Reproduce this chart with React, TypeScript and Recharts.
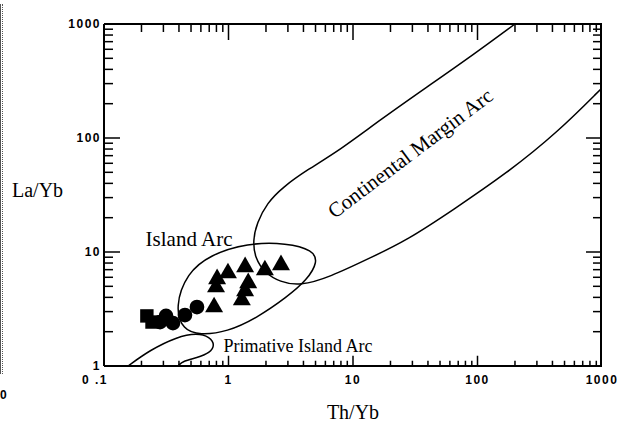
import { ScatterChart, Scatter, XAxis, YAxis, ReferenceDot, Symbols } from 'recharts';

// axis ticks (log scales)
const xMajorTicks = [0.1, 1, 10, 100, 1000];
const xInnerMajors = [1, 10, 100];
const xMinorTicks = [
  0.2, 0.3, 0.4, 0.5, 0.6, 0.7, 0.8, 0.9,
  2, 3, 4, 5, 6, 7, 8, 9,
  20, 30, 40, 50, 60, 70, 80, 90,
  200, 300, 400, 500, 600, 700, 800, 900,
];
const yMajorTicks = [1, 10, 100, 1000];
const yInnerMajors = [10, 100];
const yMinorTicks = [
  2, 3, 4, 5, 6, 7, 8, 9,
  20, 30, 40, 50, 60, 70, 80, 90,
  200, 300, 400, 500, 600, 700, 800, 900,
];
const yBottom = 1;
const yTop = 1000;

// samples: Th/Yb and La/Yb
const squareTh = [0.221, 0.243];
const squareLa = [2.75, 2.43];
const circleTh = [0.282, 0.315, 0.358, 0.447, 0.558];
const circleLa = [2.43, 2.75, 2.38, 2.8, 3.29];
const triangleTh = [0.766, 0.81, 0.794, 0.99, 1.36, 1.44, 1.36, 1.28, 1.96, 2.64];
const triangleLa = [3.29, 5.8, 4.93, 6.54, 7.39, 5.35, 4.55, 3.79, 6.95, 7.69];

// field outlines, [Th/Yb, La/Yb]
const islandArcField = [
  [0.371, 3.29], [0.464, 6.54], [0.709, 9.41], [1.41, 12.0], [2.95, 12.0],
  [4.77, 10.4], [5.23, 8.17], [4.27, 5.68], [2.95, 4.03], [1.69, 2.64],
  [0.972, 1.99], [0.59, 1.87], [0.431, 2.07],
];
const primitiveArcField = [
  [0.156, 1.0], [0.234, 1.38], [0.385, 1.8], [0.558, 1.95], [0.709, 1.8],
  [0.779, 1.53], [0.709, 1.3], [0.558, 1.18], [0.431, 1.11], [0.393, 1.0],
];
const continentalArcField = [
  [200, 1000], [92, 535], [39.3, 280], [16.5, 144], [7.86, 78.5], [4.27, 52.4],
  [2.74, 37.2], [2.04, 26.9], [1.69, 18.0], [1.57, 12.7], [1.63, 8.86],
  [1.96, 6.54], [2.59, 5.46], [3.75, 5.03], [6.53, 6.03], [13.7, 8.86],
  [27.2, 12.7], [63.6, 23.4], [172.6, 49.3], [435, 111], [1000, 275],
];

const toPoints = (xs: number[], ys: number[]) => xs.map((x, i) => ({ x, y: ys[i] }));
const fromPairs = (pairs: number[][]) => pairs.map(([x, y]) => ({ x, y }));

// inward tick marks along a horizontal frame edge, as a comb line through the scales
// (len is the tick length in decades of La/Yb; sign +1 goes up from the edge, -1 down)
const comb = (xs: number[], edge: number, len: number, sign: number) =>
  xs.flatMap((x) => [
    { x, y: edge },
    { x, y: edge * Math.pow(10, sign * len) },
    { x, y: edge },
  ]);

const serif = '"Liberation Serif", "Times New Roman", serif';
const tickFont = {
  fontFamily: '"Liberation Sans", Arial, sans-serif',
  fontSize: 12,
  fontWeight: 700,
  letterSpacing: 1.5,
  fill: '#000',
};
const tickStroke = { stroke: '#000', strokeWidth: 1.5 };
const frame = { stroke: '#000', strokeWidth: 2 };
const outline = { stroke: '#000', strokeWidth: 1.5, fill: 'none' };

function XTick(props: any) {
  const { x, y, payload } = props;
  const first = payload.value === 0.1;
  return (
    <text x={x + (first ? -9 : 0)} y={y} dy="0.75em" textAnchor="middle" style={tickFont}>
      {first ? '0 .1' : payload.value}
    </text>
  );
}
const NoLabel = () => <g />;

const marker = (type: 'square' | 'circle' | 'triangle', size: number) => (p: any) => (
  <Symbols cx={p.cx} cy={p.cy} type={type} size={size} fill="#000" />
);
const noMarker = () => <g />;

export default function App() {
  return (
    <div style={{ position: 'absolute', left: 0, top: 0, width: 617, height: 425, background: '#fff' }}>
      <div
        style={{
          position: 'absolute', left: 0, top: 4, width: 1, height: 370,
          borderLeft: '1px solid #555', borderRight: '1px dotted #555',
        }}
      />
      <div style={{ position: 'absolute', left: 0, top: 388, ...tickFont, fontSize: 12 }}>0</div>
      <ScatterChart width={617} height={425} margin={{ top: 24, right: 15, bottom: 4, left: 4 }}>
        <XAxis
          dataKey="x" type="number" scale="log" domain={[0.1, 1000]} allowDataOverflow
          ticks={xMajorTicks} interval={0} height={55} tickSize={0} tickMargin={9}
          axisLine={frame} tickLine={false} tick={<XTick />}
          label={{ value: 'Th/Yb', position: 'insideBottom', offset: 2, style: { fontFamily: serif, fontSize: 20, fill: '#000' } }}
        />
        <XAxis xAxisId="top" orientation="top" mirror type="number" scale="log" domain={[0.1, 1000]} allowDataOverflow
          ticks={xMajorTicks} interval={0} height={1} tick={<NoLabel />} axisLine={frame} tickLine={false} />

        <YAxis
          dataKey="y" type="number" scale="log" domain={[1, 1000]} allowDataOverflow
          ticks={yMajorTicks} interval={0} width={100} tickSize={0} tickMargin={3}
          axisLine={frame} tickLine={false} tick={tickFont}
          label={{ value: 'La/Yb', position: 'insideLeft', offset: 8, dy: -5, style: { fontFamily: serif, fontSize: 20, fill: '#000' } }}
        />
        <YAxis yAxisId="lMin" orientation="left" mirror type="number" scale="log" domain={[1, 1000]} allowDataOverflow
          ticks={yMinorTicks} interval={0} width={1} tickSize={8} tick={<NoLabel />} axisLine={false} tickLine={tickStroke} />
        <YAxis yAxisId="lMaj" orientation="left" mirror type="number" scale="log" domain={[1, 1000]} allowDataOverflow
          ticks={yInnerMajors} interval={0} width={1} tickSize={16} tick={<NoLabel />} axisLine={false} tickLine={tickStroke} />
        <YAxis yAxisId="rMin" orientation="right" mirror type="number" scale="log" domain={[1, 1000]} allowDataOverflow
          ticks={yMinorTicks} interval={0} width={1} tickSize={8} tick={<NoLabel />} axisLine={frame} tickLine={tickStroke} />
        <YAxis yAxisId="rMaj" orientation="right" mirror type="number" scale="log" domain={[1, 1000]} allowDataOverflow
          ticks={yInnerMajors} interval={0} width={1} tickSize={16} tick={<NoLabel />} axisLine={false} tickLine={tickStroke} />

        {/* inward tick marks on the bottom and top frame */}
        <Scatter data={comb(xMinorTicks, yBottom, 0.045, 1)} line={tickStroke} lineType="joint"
          shape={noMarker} isAnimationActive={false} />
        <Scatter data={comb(xInnerMajors, yBottom, 0.09, 1)} line={tickStroke} lineType="joint"
          shape={noMarker} isAnimationActive={false} />
        <Scatter data={comb(xMinorTicks, yTop, 0.07, -1)} line={tickStroke} lineType="joint"
          shape={noMarker} isAnimationActive={false} />
        <Scatter data={comb(xInnerMajors, yTop, 0.14, -1)} line={tickStroke} lineType="joint"
          shape={noMarker} isAnimationActive={false} />

        <Scatter data={fromPairs(islandArcField)} line={outline} lineType="joint" lineJointType="basisClosed"
          shape={noMarker} isAnimationActive={false} />
        <Scatter data={fromPairs(primitiveArcField)} line={outline} lineType="joint" lineJointType="basis"
          shape={noMarker} isAnimationActive={false} />
        <Scatter data={fromPairs(continentalArcField)} line={outline} lineType="joint" lineJointType="basis"
          shape={noMarker} isAnimationActive={false} />

        <Scatter data={toPoints(squareTh, squareLa)} shape={marker('square', 180)} isAnimationActive={false} />
        <Scatter data={toPoints(circleTh, circleLa)} shape={marker('circle', 170)} isAnimationActive={false} />
        <Scatter data={toPoints(triangleTh, triangleLa)} shape={marker('triangle', 140)} isAnimationActive={false} />

        <ReferenceDot x={0.482} y={13} r={0} stroke="none" fill="none"
          label={{ value: 'Island Arc', position: 'center', style: { fontFamily: serif, fontSize: 21, fill: '#000' } }} />
        <ReferenceDot x={3.61} y={1.5} r={0} stroke="none" fill="none"
          label={{ value: 'Primative Island Arc', position: 'center', style: { fontFamily: serif, fontSize: 18, fill: '#000' } }} />
        <ReferenceDot x={28.7} y={73.9} r={0} stroke="none" fill="none"
          label={{ value: 'Continental Margin Arc', position: 'center', angle: -37, style: { fontFamily: serif, fontSize: 21, fill: '#000' } }} />
      </ScatterChart>
    </div>
  );
}
